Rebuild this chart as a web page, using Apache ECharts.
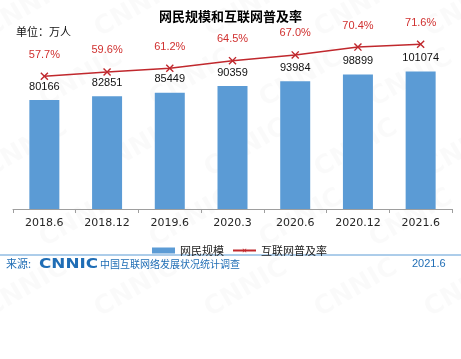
<!DOCTYPE html>
<html><head><meta charset="utf-8">
<script src="https://cdn.jsdelivr.net/npm/echarts@6/dist/echarts.min.js"></script>
<style>html,body{margin:0;padding:0;background:#fff}#c{width:461px;height:359px}</style>
</head><body><div id="c"></div>
<script>
const categories = ['2018.6','2018.12','2019.6','2020.3','2020.6','2020.12','2021.6'];
const users = [80166, 82851, 85449, 90359, 93984, 98899, 101074];
const penetration = [57.7, 59.6, 61.2, 64.5, 67.0, 70.4, 71.6];
const seriesNames = ['网民规模', '互联网普及率'];

const chart = echarts.init(document.getElementById('c'));
const font = '"Liberation Sans", Arial, "Noto Sans CJK SC", sans-serif';
const blue = '#1f6db5';
const watermarks = [];
for (let r = 0; r < 5; r++) {
  for (let c = 0; c < 5; c++) {
    watermarks.push({
      type: 'text', silent: true, z: -10,
      x: c * 110 - 20 + (r % 2) * 55, y: r * 70 + 20, rotation: Math.PI / 6,
      style: { text: 'CNNIC', fill: 'rgba(0,0,0,0.018)', font: 'bold 26px "DejaVu Sans"' }
    });
  }
}
chart.setOption({
  animation: false,
  textStyle: { fontFamily: font },
  title: {
    text: '网民规模和互联网普及率', left: 'center', top: 5,
    textStyle: { fontSize: 13, fontWeight: 'bold', color: '#000', fontFamily: '"Noto Sans CJK SC", sans-serif' }
  },
  grid: { left: 13, right: 9, top: 5, bottom: 150 },
  legend: {
    left: 147, top: 240, itemWidth: 23, itemHeight: 6, itemGap: 8,
    textStyle: { fontSize: 11, color: '#222', fontFamily: '"Noto Sans CJK SC", sans-serif' },
    data: [{ name: seriesNames[0], icon: 'rect' }, { name: seriesNames[1] }]
  },
  xAxis: {
    type: 'category', data: categories,
    axisLine: { lineStyle: { color: '#9e9e9e', width: 1 } },
    axisTick: { show: true, length: 4, lineStyle: { color: '#9e9e9e' } },
    axisLabel: { fontSize: 11, color: '#262626', margin: 9, fontFamily: '"DejaVu Sans", sans-serif' }
  },
  yAxis: [
    { type: 'value', min: 0, max: 150000, show: false, splitLine: { show: false } },
    { type: 'value', min: 0, max: 88.7, show: false, splitLine: { show: false } }
  ],
  series: [
    {
      name: seriesNames[0], type: 'bar', data: users, barWidth: 30,
      itemStyle: { color: '#5b9bd5' },
      label: { show: true, position: 'top', distance: 8, fontSize: 11, color: '#111' }
    },
    {
      name: seriesNames[1], type: 'line', yAxisIndex: 1, data: penetration,
      lineStyle: { color: '#c0282d', width: 1.5 },
      itemStyle: { color: '#c0282d' },
      symbol: 'path://M-0.7,-5H0.7V-0.7H5V0.7H0.7V5H-0.7V0.7H-5V-0.7H-0.7Z',
      symbolRotate: 45, symbolSize: 10,
      label: { show: true, position: 'top', distance: 9, fontSize: 11, color: '#d0302f',
        formatter: p => p.value.toFixed(1) + '%' }
    }
  ],
  graphic: watermarks.concat([
    { type: 'text', left: 16, top: 26, style: { text: '单位：万人', fill: '#111', font: '11px "Noto Sans CJK SC"' } },
    { type: 'line', shape: { x1: 0, y1: 255, x2: 461, y2: 255 }, style: { stroke: '#5b9bd5', lineWidth: 1 } },
    { type: 'text', left: 6, top: 258, style: { text: '来源:', fill: blue, font: '11px "Noto Sans CJK SC"' } },
    { type: 'text', x: 39, y: 257, scaleX: 1.2, style: { text: 'CNNIC', fill: blue, font: 'bold 14px "DejaVu Sans"' } },
    { type: 'text', left: 100, top: 259, style: { text: '中国互联网络发展状况统计调查', fill: blue, font: '10px "Noto Sans CJK SC"' } },
    { type: 'text', left: 412, top: 258, style: { text: '2021.6', fill: blue, font: '11px "Liberation Sans"' } }
  ])
});
</script></body></html>
